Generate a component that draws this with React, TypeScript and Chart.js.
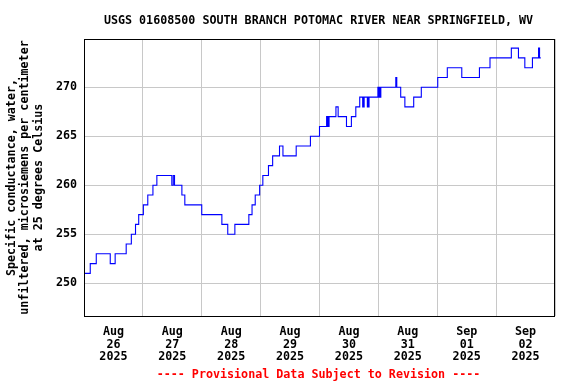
import React, { useEffect, useRef } from 'react';
import { Chart, registerables } from 'chart.js';

Chart.register(...registerables);

const TITLE = 'USGS 01608500 SOUTH BRANCH POTOMAC RIVER NEAR SPRINGFIELD, WV';
const Y_TITLE = [
  'Specific conductance, water,',
  'unfiltered, microsiemens per centimeter',
  'at 25 degrees Celsius',
];
const FOOTER = '---- Provisional Data Subject to Revision ----';

// Day labels (each centred at noon of its day); hours counted from Aug 26 2025 00:00
const DAY_MONTHS = ['Aug', 'Aug', 'Aug', 'Aug', 'Aug', 'Aug', 'Sep', 'Sep'];
const DAY_NUMBERS = ['26', '27', '28', '29', '30', '31', '01', '02'];
const DAY_YEARS = ['2025', '2025', '2025', '2025', '2025', '2025', '2025', '2025'];
const Y_TICKS = [250, 255, 260, 265, 270];

// Step change points: hour since Aug 26 00:00 and the new value
const CHANGE_HOURS = [
  0, 2.55, 5.0, 10.7, 12.7, 17.2, 19.3, 21.0, 22.3, 24.2, 26.0, 28.1, 29.7,
  35.8, 36.4, 36.9, 39.9, 41.1, 48.0, 56.2, 58.6, 61.5, 67.2, 68.5, 69.8,
  71.6, 72.9, 75.2, 76.9, 79.7, 81.1, 86.5, 92.3, 96.0, 98.9, 99.2, 99.4,
  99.7, 99.9, 102.7, 103.6, 107.0, 109.0, 110.8, 112.4, 113.6, 113.8, 114.0,
  114.2, 115.5, 115.7, 116.0, 116.2, 119.8, 120.2, 120.4, 120.8, 121.0,
  127.1, 127.5, 129.1, 130.8, 134.4, 137.5, 144.2, 148.1, 154.0, 161.2,
  165.5, 174.2, 177.1, 179.7, 182.8, 185.3, 185.7, 186.2,
];
const CHANGE_VALUES = [
  251, 252, 253, 252, 253, 254, 255, 256, 257, 258, 259, 260, 261,
  260, 261, 260, 259, 258, 257, 256, 255, 256, 257, 258, 259,
  260, 261, 262, 263, 264, 263, 264, 265, 266, 267, 266, 267,
  266, 267, 268, 267, 266, 267, 268, 269, 268, 269, 268,
  269, 268, 269, 268, 269, 270, 269, 270, 269, 270,
  271, 270, 269, 268, 269, 270, 271, 272, 271, 272,
  273, 274, 273, 272, 273, 274, 273, 273,
];

const FONT_FAMILY = '"DejaVu Sans Mono", "Liberation Mono", monospace';
const FONT_SIZE = 11.7;

const framePlugin = {
  id: 'usgsFrame',
  afterDatasetsDraw(chart: any) {
    const { ctx, chartArea } = chart;
    ctx.save();
    ctx.strokeStyle = '#000000';
    ctx.lineWidth = 1;
    ctx.strokeRect(
      chartArea.left + 0.5,
      chartArea.top + 0.5,
      chartArea.right - chartArea.left - 1,
      chartArea.bottom - chartArea.top
    );
    ctx.restore();
  },
  afterDraw(chart: any) {
    const { ctx, chartArea } = chart;
    const cx = (chartArea.left + chartArea.right) / 2 - 1;
    const cy = (chartArea.top + chartArea.bottom) / 2;
    ctx.save();
    ctx.font = `bold ${FONT_SIZE}px ${FONT_FAMILY}`;
    ctx.textAlign = 'center';
    ctx.textBaseline = 'middle';
    ctx.fillStyle = '#000000';
    ctx.fillText(TITLE, cx, 20.5);
    ctx.fillStyle = '#ff0000';
    ctx.fillText(FOOTER, cx, 374.5);
    ctx.fillStyle = '#000000';
    const xs = [11.5, 25, 38.5];
    Y_TITLE.forEach((line, i) => {
      ctx.save();
      ctx.translate(xs[i], cy);
      ctx.rotate(-Math.PI / 2);
      ctx.fillText(line, 0, 0);
      ctx.restore();
    });
    ctx.restore();
  },
};

export default function App() {
  const canvasRef = useRef<HTMLCanvasElement | null>(null);

  useEffect(() => {
    const canvas = canvasRef.current;
    if (!canvas) return;
    const points = CHANGE_HOURS.map((h, i) => ({ x: h, y: CHANGE_VALUES[i] }));
    const tickFont = { family: FONT_FAMILY, size: FONT_SIZE, weight: 'bold' as const };
    const chart = new Chart(canvas, {
      type: 'line',
      data: {
        datasets: [
          {
            data: points,
            xAxisID: 'x',
            yAxisID: 'y',
            borderColor: '#0000ff',
            borderWidth: 1.1,
            pointRadius: 0,
            fill: false,
            stepped: 'before',
            tension: 0,
          },
        ],
      },
      options: {
        responsive: false,
        animation: false,
        devicePixelRatio: 1,
        layout: { padding: { top: 39, right: 21, left: 0, bottom: 0 } },
        plugins: {
          legend: { display: false },
          title: { display: false },
          tooltip: { enabled: false },
        },
        events: [],
        scales: {
          x: {
            type: 'linear',
            position: 'bottom',
            weight: 0,
            min: 0,
            max: 192,
            ticks: { display: false, stepSize: 24 },
            grid: { color: '#c8c8c8', lineWidth: 1, drawTicks: false },
            border: { display: false },
            afterBuildTicks: (axis: any) => {
              axis.ticks = [0, 24, 48, 72, 96, 120, 144, 168, 192].map((v) => ({ value: v }));
            },
            afterFit: (axis: any) => {
              axis.height = 0;
            },
          },
          xl: {
            type: 'linear',
            position: 'bottom',
            weight: 1,
            min: 0,
            max: 192,
            grid: { display: false, drawTicks: false },
            border: { display: false },
            ticks: {
              autoSkip: false,
              maxRotation: 0,
              minRotation: 0,
              padding: 9.5,
              color: '#000000',
              font: { ...tickFont, lineHeight: 1.09 },
              callback: (_v: any, index: number) => [
                DAY_MONTHS[index],
                DAY_NUMBERS[index],
                DAY_YEARS[index],
              ],
            },
            afterBuildTicks: (axis: any) => {
              axis.ticks = DAY_MONTHS.map((_, i) => ({ value: 12 + 24 * i }));
            },
            afterFit: (axis: any) => {
              axis.height = 68;
            },
          },
          y: {
            type: 'linear',
            position: 'left',
            min: 246.65,
            max: 274.93,
            grid: { color: '#c8c8c8', lineWidth: 1, drawTicks: false },
            border: { display: false },
            ticks: {
              padding: 7,
              color: '#000000',
              font: tickFont,
            },
            afterBuildTicks: (axis: any) => {
              axis.ticks = Y_TICKS.map((v) => ({ value: v }));
            },
            afterFit: (axis: any) => {
              axis.width = 84;
            },
          },
        },
      },
      plugins: [framePlugin],
    });
    return () => {
      chart.destroy();
    };
  }, []);

  return (
    <div style={{ position: 'absolute', left: 0, top: 0, width: 576, height: 384, background: '#ffffff' }}>
      <canvas ref={canvasRef} width={576} height={384} style={{ display: 'block', width: 576, height: 384 }} />
    </div>
  );
}
